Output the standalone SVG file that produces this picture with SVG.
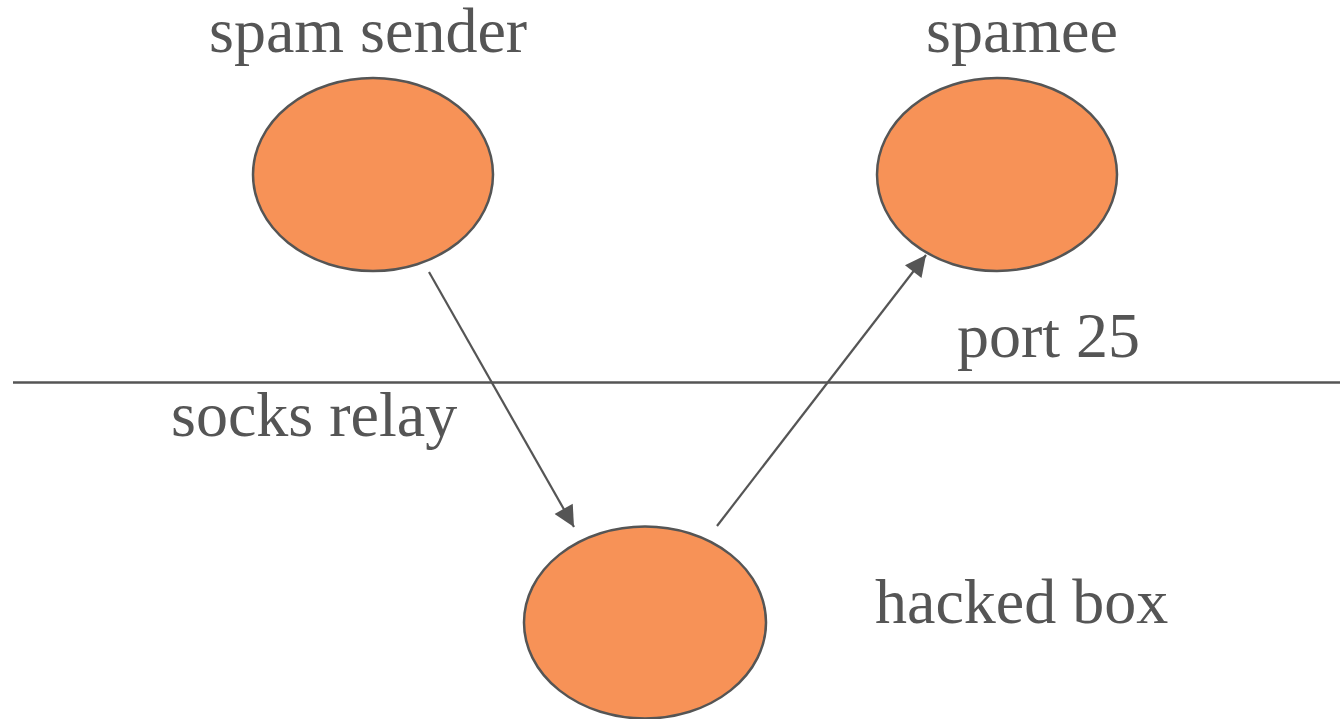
<svg xmlns="http://www.w3.org/2000/svg" width="1340" height="719" viewBox="0 0 1340 719">
  <style>
    .node { fill: #f79257; stroke: #555555; stroke-width: 2.5; }
    .label { font-family: "Liberation Serif", "Times New Roman", serif; font-size: 64px; fill: #555555; }
    .edge { stroke: #555555; stroke-width: 2.2; fill: none; marker-end: url(#arrow); }
    .divider { stroke: #555555; stroke-width: 2.5; }
  </style>
  <defs>
    <marker id="arrow" viewBox="0 0 10 10" refX="10" refY="5" markerWidth="11" markerHeight="9.5" markerUnits="strokeWidth" orient="auto">
      <path d="M0,0 L10,5 L0,10 Z" fill="#555555"/>
    </marker>
  </defs>
  <rect width="1340" height="719" fill="#ffffff"/>

  <!-- boundary line -->
  <line class="divider" x1="13" y1="382.5" x2="1340" y2="382.5"/>

  <g id="spam-sender">
    <ellipse class="node" cx="373" cy="174.5" rx="120" ry="96.5"/>
    <text class="label" x="209" y="52">spam sender</text>
  </g>

  <g id="spamee">
    <ellipse class="node" cx="997" cy="174.5" rx="120" ry="96.5"/>
    <text class="label" x="926" y="52">spamee</text>
  </g>

  <g id="hacked-box">
    <ellipse class="node" cx="645" cy="622.5" rx="121" ry="96"/>
    <text class="label" x="875" y="623">hacked box</text>
  </g>

  <g id="labels">
    <text class="label" x="957" y="357">port 25</text>
    <text class="label" x="171" y="436">socks relay</text>
  </g>

  <g id="connectors">
    <line class="edge" x1="429" y1="272" x2="574" y2="527"/>
    <line class="edge" x1="717" y1="526" x2="926" y2="255"/>
  </g>
</svg>
